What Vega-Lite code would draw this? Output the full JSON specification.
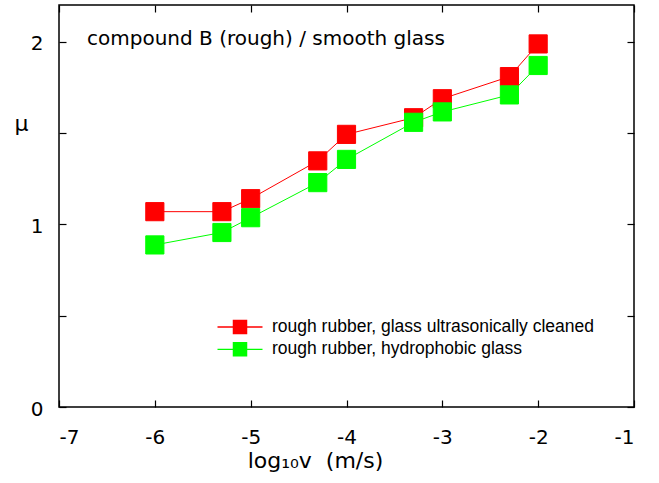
{
  "$schema": "https://vega.github.io/schema/vega-lite/v6.json",
  "width": 575,
  "height": 402,
  "autosize": {"type": "none"},
  "padding": {"left": 59, "top": 5, "right": 25, "bottom": 76},
  "background": "white",
  "config": {
    "view": {"stroke": "black", "strokeWidth": 1.5},
    "axis": {"grid": false, "domain": false, "tickColor": "black", "tickWidth": 1.2, "labelColor": "black", "titleColor": "black"},
    "legend": {
      "orient": "none",
      "legendX": 170,
      "legendY": 311,
      "padding": 0,
      "symbolType": "M-2.25,0H2.25M-0.66,-0.66H0.66V0.66H-0.66Z",
      "symbolSize": 400,
      "symbolStrokeWidth": 1.3,
      "labelOffset": 21,
      "rowPadding": 1.3,
      "labelFont": "Liberation Sans",
      "labelFontSize": 17.5,
      "labelColor": "black",
      "labelLimit": 500
    }
  },
  "title": {
    "text": "compound B (rough) / smooth glass",
    "anchor": "start",
    "frame": "group",
    "orient": "top",
    "offset": 0,
    "baseline": "alphabetic",
    "dx": 28,
    "dy": 61,
    "font": "DejaVu Sans",
    "fontSize": 20,
    "fontWeight": "normal",
    "color": "black"
  },
  "data": {
    "values": [
      {"logv": -6.0, "mu": 1.069, "series": "rough rubber, glass ultrasonically cleaned"},
      {"logv": -5.3, "mu": 1.069, "series": "rough rubber, glass ultrasonically cleaned"},
      {"logv": -5.0, "mu": 1.140, "series": "rough rubber, glass ultrasonically cleaned"},
      {"logv": -4.3, "mu": 1.347, "series": "rough rubber, glass ultrasonically cleaned"},
      {"logv": -4.0, "mu": 1.492, "series": "rough rubber, glass ultrasonically cleaned"},
      {"logv": -3.3, "mu": 1.583, "series": "rough rubber, glass ultrasonically cleaned"},
      {"logv": -3.0, "mu": 1.687, "series": "rough rubber, glass ultrasonically cleaned"},
      {"logv": -2.3, "mu": 1.808, "series": "rough rubber, glass ultrasonically cleaned"},
      {"logv": -2.0, "mu": 1.987, "series": "rough rubber, glass ultrasonically cleaned"},
      {"logv": -6.0, "mu": 0.887, "series": "rough rubber, hydrophobic glass"},
      {"logv": -5.3, "mu": 0.955, "series": "rough rubber, hydrophobic glass"},
      {"logv": -5.0, "mu": 1.036, "series": "rough rubber, hydrophobic glass"},
      {"logv": -4.3, "mu": 1.228, "series": "rough rubber, hydrophobic glass"},
      {"logv": -4.0, "mu": 1.355, "series": "rough rubber, hydrophobic glass"},
      {"logv": -3.3, "mu": 1.558, "series": "rough rubber, hydrophobic glass"},
      {"logv": -3.0, "mu": 1.615, "series": "rough rubber, hydrophobic glass"},
      {"logv": -2.3, "mu": 1.708, "series": "rough rubber, hydrophobic glass"},
      {"logv": -2.0, "mu": 1.869, "series": "rough rubber, hydrophobic glass"}
    ]
  },
  "layer": [
    {
      "mark": {"type": "line", "strokeWidth": 1},
      "encoding": {
        "x": {
          "field": "logv", "type": "quantitative",
          "scale": {"domain": [-7, -1], "nice": false, "zero": false},
          "axis": {
            "orient": "bottom",
            "values": [-7, -6, -5, -4, -3, -2, -1],
            "labelExpr": "'' + datum.value",
            "tickSize": -7,
            "labelPadding": 43,
            "labelFont": "DejaVu Sans",
            "labelFontSize": 20,
            "labelBaseline": "alphabetic",
            "title": "log₁₀v \u00a0(m/s)",
            "titleFont": "DejaVu Sans",
            "titleFontSize": 22,
            "titleFontWeight": "normal",
            "titleX": 256,
            "titleY": 60,
            "titleAlign": "center",
            "titleBaseline": "alphabetic"
          }
        },
        "y": {
          "field": "mu", "type": "quantitative",
          "scale": {"domain": [0, 2.2], "nice": false, "zero": false},
          "axis": {
            "orient": "left",
            "values": [0, 0.5, 1, 1.5, 2],
            "labelExpr": "datum.value % 1 == 0 ? '' + datum.value : ''",
            "tickSize": -7,
            "labelPadding": 23,
            "labelOffset": 2,
            "labelFont": "DejaVu Sans",
            "labelFontSize": 20,
            "title": "μ",
            "titleAngle": 0,
            "titleFont": "DejaVu Sans",
            "titleFontSize": 22,
            "titleFontWeight": "normal",
            "titleX": -38,
            "titleY": 125,
            "titleAlign": "center",
            "titleBaseline": "alphabetic"
          }
        },
        "color": {
          "field": "series", "type": "nominal",
          "scale": {"domain": ["rough rubber, glass ultrasonically cleaned", "rough rubber, hydrophobic glass"], "range": ["#ff0000", "#00ff00"]},
          "legend": {
            "title": null,
            "encode": {"symbols": {"update": {"fill": {"scale": "color", "field": "value"}, "stroke": {"scale": "color", "field": "value"}, "opacity": {"value": 1}}}}
          }
        }
      }
    },
    {
      "mark": {"type": "point", "shape": "square", "filled": true, "size": 330, "strokeWidth": 1, "opacity": 1},
      "encoding": {
        "x": {
          "field": "logv", "type": "quantitative",
          "axis": {"orient": "top", "values": [-7, -6, -5, -4, -3, -2, -1], "labels": false, "tickSize": -7, "title": null}
        },
        "y": {
          "field": "mu", "type": "quantitative",
          "axis": {"orient": "right", "values": [0, 0.5, 1, 1.5, 2], "labels": false, "tickSize": -7, "title": null}
        },
        "color": {
          "field": "series", "type": "nominal",
          "legend": {
            "title": null,
            "encode": {"symbols": {"update": {"fill": {"scale": "color", "field": "value"}, "stroke": {"scale": "color", "field": "value"}, "opacity": {"value": 1}}}}
          }
        },
        "stroke": {"field": "series", "type": "nominal", "scale": {"domain": ["rough rubber, glass ultrasonically cleaned", "rough rubber, hydrophobic glass"], "range": ["#ff0000", "#00ff00"]}, "legend": null}
      }
    }
  ],
  "resolve": {"axis": {"x": "independent", "y": "independent"}}
}
